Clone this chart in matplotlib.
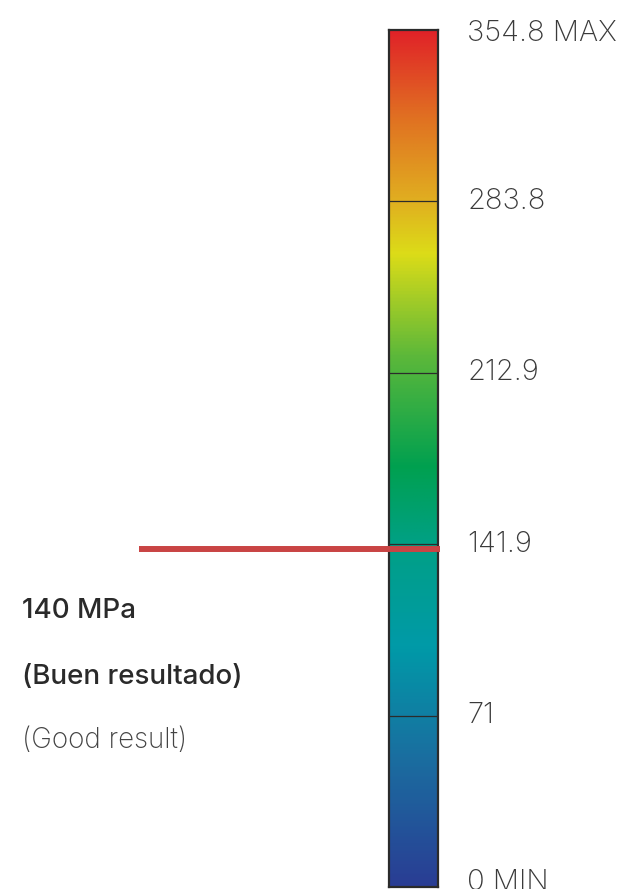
import numpy as np
import matplotlib
matplotlib.use("Agg")
from matplotlib import pyplot as plt
from matplotlib.colors import LinearSegmentedColormap

vmin = 0.0
vmax = 354.8
tick_values = [71, 141.9, 212.9, 283.8]
tick_labels = ["71", "141.9", "212.9", "283.8"]
end_labels = ["0 MIN", "354.8 MAX"]
marker_value = 140
notes = ["140 MPa", "(Buen resultado)", "(Good result)"]

stops = [0.0, 0.15, 0.28, 0.40, 0.49, 0.62, 0.74, 0.80, 0.90, 1.0]
colors = ["#2a3d94", "#1a6ea0", "#009aa8", "#00a085", "#00a050",
          "#5cb83a", "#dcdc18", "#e0b020", "#e07022", "#e02228"]
cmap = LinearSegmentedColormap.from_list("stress", list(zip(stops, colors)))

fig = plt.figure(figsize=(6.3, 8.89), dpi=100)
ax = fig.add_axes([389 / 630, 2 / 889, 49 / 630, 857 / 889])

grad = np.linspace(vmin, vmax, 512).reshape(-1, 1)
ax.imshow(grad, cmap=cmap, aspect="auto", origin="lower",
          extent=(0, 1, vmin, vmax), vmin=vmin, vmax=vmax)
ax.set_xlim(0, 1)
ax.set_ylim(vmin, vmax)
ax.set_xticks([])
ax.set_yticks([])
for s in ax.spines.values():
    s.set_color("#2b2b2b")
    s.set_linewidth(1.6)

for v in tick_values:
    ax.axhline(v, color="#2b2b2b", lw=0.9)

# marker line at 140 MPa, extends out to the left
ax.plot([-5.1, 1.04], [marker_value, marker_value], color="#c94444",
        lw=4.3, clip_on=False, solid_capstyle="butt", zorder=5)

lab_kw = dict(transform=ax.get_yaxis_transform(), va="center", ha="left",
              fontsize=21, color="#3a3a3a", family="Inter", fontweight="light",
              clip_on=False)
for v, t in zip(tick_values, tick_labels):
    ax.text(1.6, v, t, **lab_kw)
ax.text(1.6, vmin + 2, end_labels[0], **lab_kw)
ax.text(1.6, vmax - 1.5, end_labels[1], **lab_kw)

fig.text(22 / 630, 1 - 611 / 889, notes[0], fontsize=20, color="#2a2a2a",
         family="Inter", fontweight="medium", va="center")
fig.text(22 / 630, 1 - 677 / 889, notes[1], fontsize=20, color="#2a2a2a",
         family="Inter", fontweight="medium", va="center")
fig.text(22 / 630, 1 - 741 / 889, notes[2], fontsize=20, color="#444444",
         family="Inter", fontweight="light", va="center")

fig.savefig("out.png", dpi=100)
plt.close(fig)
